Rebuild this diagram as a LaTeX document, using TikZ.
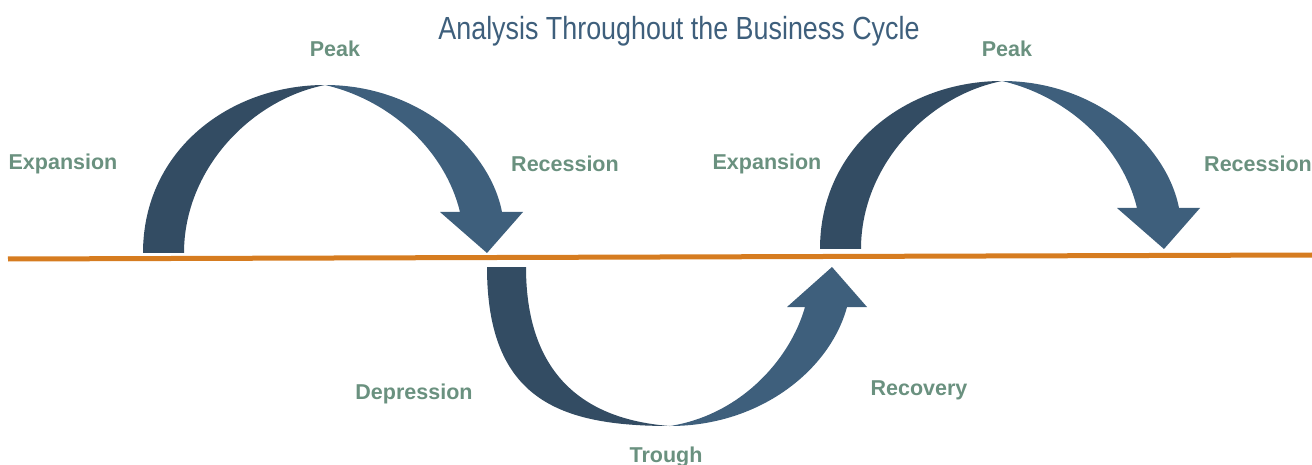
\documentclass[tikz,border=0pt]{standalone}
\usepackage{fontspec}
\setmainfont{Liberation Sans}
\newfontfamily\titlefont{Liberation Sans}[FakeStretch=0.84]
\usetikzlibrary{positioning}
\definecolor{darkarc}{HTML}{334C63}
\definecolor{lightarc}{HTML}{3E5F7C}
\definecolor{phasegreen}{HTML}{6A917F}
\definecolor{lineorange}{HTML}{D67C20}
\tikzset{
  phase/.style={text=phasegreen, font=\fontsize{21.5}{25}\selectfont\bfseries},
  titletext/.style={text=lightarc, font=\titlefont\fontsize{32}{36}\selectfont},
  zeroline/.style={draw=lineorange, line width=5pt},
  hump/.pic={
    % expansion side up to the peak
    \fill[darkarc] (143,253) .. controls (143,150) and (230,85) .. (325,85)
      .. controls (250,100) and (184,170) .. (184,253) -- cycle;
    % recession side with its head
    \fill[lightarc] (325,85) .. controls (420,85) and (490,150) .. (502,212)
      -- (523,212) -- (487,253) -- (440,212) -- (460,212)
      .. controls (445,150) and (390,100) .. (325,85) -- cycle;
  }
}

\begin{document}
\begin{tikzpicture}[x=1pt,y=-1pt]
\useasboundingbox (0,0) rectangle (1312,465);

\node[titletext] (title) at (679,31) {Analysis Throughout the Business Cycle};

\coordinate (lineL) at (8,259);
\coordinate (lineR) at (1312,255);
\draw[zeroline] (lineL) -- (lineR);

\pic at (0,0) {hump};
\pic at (677,-4) {hump};

% the dip down to the trough
\fill[darkarc] (487,267) .. controls (487,400) and (560,426) .. (670,426)
  .. controls (590,420) and (526,380) .. (526,267) -- cycle;
\fill[lightarc] (670,426) .. controls (760,426) and (830,370) .. (847,307)
  -- (867,307) -- (832,267) -- (787,307) -- (805,307)
  .. controls (790,360) and (740,415) .. (670,426) -- cycle;

\node[phase] (expA) at (63,164) {Expansion};
\node[phase] (peakA) at (335,49) {Peak};
\node[phase] (recA) at (565,164) {Recession};
\node[phase] (dep) at (414,394) {Depression};
\node[phase] (trough) at (666,457) {Trough};
\node[phase] (recov) at (919,390) {Recovery};
\node[phase] (expB) at (767,164) {Expansion};
\node[phase] (peakB) at (1007,49) {Peak};
\node[phase] (recB) at (1258,164) {Recession};

\end{tikzpicture}
\end{document}
